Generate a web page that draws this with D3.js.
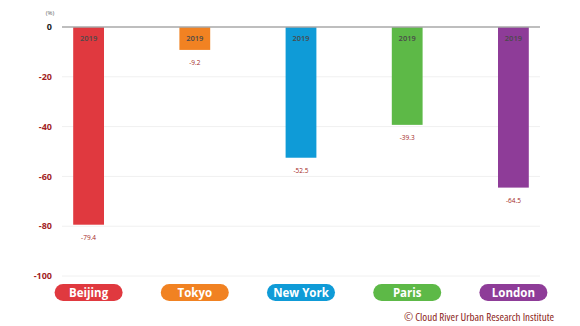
<!DOCTYPE html>
<html lang="en">
  <head>
    <meta charset="UTF-8" />
    <title>Change vs 2019</title>
    <script src="https://d3js.org/d3.v7.min.js"></script>
    <style>
      body { margin: 0; background: #fff; }
      text { font-family: "Open Sans", "Noto Sans", sans-serif; }
    </style>
  </head>
  <body>
    <svg id="chart" width="580" height="326"></svg>
    <script>
      // data
      const cities = ["Beijing", "Tokyo", "New York", "Paris", "London"];
      const values = [-79.4, -9.2, -52.5, -39.3, -64.5];
      const barLabel = "2019";
      const yTicks = [0, -20, -40, -60, -80, -100];
      const colors = ["#e0393f", "#f18222", "#0f9bd7", "#5db947", "#8e3c98"];

      const data = cities.map((c, i) => ({ city: c, value: values[i], color: colors[i] }));

      const svg = d3.select("#chart");

      const y = d3.scaleLinear().domain([0, -100]).range([27, 276]);
      const x = d3.scaleBand().domain(cities).range([35.5, 566.5]).paddingInner(0.71).paddingOuter(0.355);
      const gridX = [62, 540];

      // gridlines
      svg.selectAll(".grid")
        .data(yTicks.filter((t) => t !== 0))
        .enter()
        .append("line")
        .attr("x1", gridX[0])
        .attr("x2", gridX[1])
        .attr("y1", (d) => y(d))
        .attr("y2", (d) => y(d))
        .attr("stroke", "#f0f0f0")
        .attr("stroke-width", 1);

      // tick labels
      svg.selectAll(".tick")
        .data(yTicks)
        .enter()
        .append("text")
        .attr("x", 52)
        .attr("y", (d) => y(d))
        .attr("dy", "0.35em")
        .attr("text-anchor", "end")
        .attr("font-size", 9)
        .attr("font-weight", "bold")
        .attr("fill", (d) => (d === 0 ? "#222" : "#a31f24"))
        .text((d) => d);

      svg.append("text")
        .attr("x", 50)
        .attr("y", 15)
        .attr("text-anchor", "middle")
        .attr("font-size", 6)
        .attr("fill", "#666")
        .text("(%)");

      // bars
      svg.selectAll(".bar")
        .data(data)
        .enter()
        .append("rect")
        .attr("x", (d) => x(d.city))
        .attr("y", y(0))
        .attr("width", x.bandwidth())
        .attr("height", (d) => y(d.value) - y(0))
        .attr("fill", (d) => d.color);

      // zero line
      svg.append("line")
        .attr("x1", gridX[0])
        .attr("x2", gridX[1])
        .attr("y1", y(0))
        .attr("y2", y(0))
        .attr("stroke", "#a8a8a8")
        .attr("stroke-width", 1.5);

      // year labels
      svg.selectAll(".year")
        .data(data)
        .enter()
        .append("text")
        .attr("x", (d) => x(d.city) + x.bandwidth() / 2)
        .attr("y", 41)
        .attr("text-anchor", "middle")
        .attr("font-size", 7.5)
        .attr("font-weight", "600")
        .attr("fill", "#4a4a4a")
        .text(barLabel);

      // value labels
      svg.selectAll(".val")
        .data(data)
        .enter()
        .append("text")
        .attr("x", (d) => x(d.city) + x.bandwidth() / 2)
        .attr("y", (d) => y(d.value) + 15)
        .attr("text-anchor", "middle")
        .attr("font-size", 6.5)
        .attr("fill", "#a31f24")
        .text((d) => d.value);

      // city pills
      const pill = svg.selectAll(".pill")
        .data(data)
        .enter()
        .append("g")
        .attr("transform", (d) => `translate(${x(d.city) + x.bandwidth() / 2},292.5)`);
      pill.append("rect")
        .attr("x", -34)
        .attr("y", -8.5)
        .attr("width", 68)
        .attr("height", 17)
        .attr("rx", 8.5)
        .attr("fill", (d) => d.color);
      pill.append("text")
        .attr("dy", "0.36em")
        .attr("text-anchor", "middle")
        .attr("font-size", 11.5)
        .attr("font-weight", "bold")
        .attr("fill", "#fff")
        .text((d) => d.city);

      // credit
      svg.append("text")
        .attr("x", 554)
        .attr("y", 321)
        .attr("text-anchor", "end")
        .attr("font-size", 11.5)
        .attr("font-family", "DejaVu Sans Condensed, Liberation Sans Narrow, sans-serif")
        .attr("font-stretch", "condensed")
        .attr("textLength", 150)
        .attr("lengthAdjust", "spacingAndGlyphs")
        .attr("fill", "#8c1d20")
        .text("\u00a9 Cloud River Urban Research Institute");
    </script>
  </body>
</html>
